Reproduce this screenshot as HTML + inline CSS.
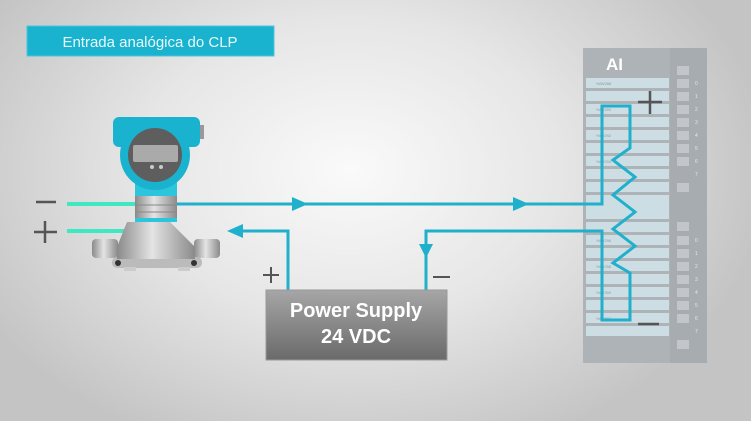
<!DOCTYPE html>
<html><head><meta charset="utf-8"><style>
html,body{margin:0;padding:0;width:751px;height:421px;overflow:hidden}
body{background:radial-gradient(ellipse 420px 300px at 350px 170px,#fafafa 0%,#e6e6e6 50%,#c4c4c4 100%);font-family:"Liberation Sans",sans-serif}
</style></head><body>
<svg width="751" height="421" viewBox="0 0 751 421" xmlns="http://www.w3.org/2000/svg" style="position:absolute;left:0;top:0">
<defs>
<linearGradient id="silver" x1="0" x2="1" y1="0" y2="0">
<stop offset="0" stop-color="#8a8a8a"/><stop offset=".45" stop-color="#e4e4e4"/><stop offset="1" stop-color="#8a8a8a"/></linearGradient>
<linearGradient id="ps" x1="0" x2="0" y1="0" y2="1">
<stop offset="0" stop-color="#a6a6a6"/><stop offset="1" stop-color="#6a6a6a"/></linearGradient>
</defs>
<rect x="27" y="26" width="247" height="30" fill="#1ab3cf" stroke="#4cc6dd"/>
<text x="150" y="47" font-size="15" fill="#e8f8fb" text-anchor="middle">Entrada analógica do CLP</text>

<rect x="583" y="48" width="124" height="315" fill="#aeb3b8"/>
<rect x="670" y="48" width="37" height="315" fill="#a7acb1"/>
<text x="606" y="70" font-size="17" font-weight="bold" fill="#fff">AI</text>
<g fill="#cddde4">
<rect x="586" y="78" width="83" height="10"/><rect x="586" y="91" width="83" height="10"/><rect x="586" y="104" width="83" height="10"/><rect x="586" y="117" width="83" height="10"/><rect x="586" y="130" width="83" height="10"/><rect x="586" y="143" width="83" height="10"/><rect x="586" y="156" width="83" height="10"/><rect x="586" y="169" width="83" height="10"/><rect x="586" y="182" width="83" height="10"/><rect x="586" y="195" width="83" height="24"/><rect x="586" y="222" width="83" height="10"/><rect x="586" y="235" width="83" height="10"/><rect x="586" y="248" width="83" height="10"/><rect x="586" y="261" width="83" height="10"/><rect x="586" y="274" width="83" height="10"/><rect x="586" y="287" width="83" height="10"/><rect x="586" y="300" width="83" height="10"/><rect x="586" y="313" width="83" height="10"/><rect x="586" y="326" width="83" height="10"/>
</g>
<g font-size="4" fill="#8a9aa4">
<text x="596" y="85">%IW288</text><text x="596" y="111">%IW290</text><text x="596" y="137">%IW292</text><text x="596" y="163">%IW294</text>
<text x="596" y="242">%IW296</text><text x="596" y="268">%IW298</text><text x="596" y="294">%IW300</text><text x="596" y="320">%IW302</text>
</g>
<g fill="#c3c6c9">
<rect x="677" y="66" width="12" height="9"/><rect x="677" y="79" width="12" height="9"/><rect x="677" y="92" width="12" height="9"/><rect x="677" y="105" width="12" height="9"/><rect x="677" y="118" width="12" height="9"/><rect x="677" y="131" width="12" height="9"/><rect x="677" y="144" width="12" height="9"/><rect x="677" y="157" width="12" height="9"/><rect x="677" y="183" width="12" height="9"/>
<rect x="677" y="222" width="12" height="9"/><rect x="677" y="236" width="12" height="9"/><rect x="677" y="249" width="12" height="9"/><rect x="677" y="262" width="12" height="9"/><rect x="677" y="275" width="12" height="9"/><rect x="677" y="288" width="12" height="9"/><rect x="677" y="301" width="12" height="9"/><rect x="677" y="314" width="12" height="9"/><rect x="677" y="340" width="12" height="9"/>
</g>
<g font-size="5" fill="#e6e6e6">
<text x="695" y="85">0</text><text x="695" y="98">1</text><text x="695" y="111">2</text><text x="695" y="124">3</text><text x="695" y="137">4</text><text x="695" y="150">5</text><text x="695" y="163">6</text><text x="695" y="176">7</text>
<text x="695" y="242">0</text><text x="695" y="255">1</text><text x="695" y="268">2</text><text x="695" y="281">3</text><text x="695" y="294">4</text><text x="695" y="307">5</text><text x="695" y="320">6</text><text x="695" y="333">7</text>
</g>
<g stroke="#555" stroke-width="2.5">
<line x1="638" y1="102" x2="662" y2="102"/><line x1="650" y1="91" x2="650" y2="114"/>
<line x1="638" y1="324" x2="659" y2="324"/>
</g>

<g fill="none" stroke="#1fb0cc" stroke-width="3" stroke-linejoin="miter">
<polyline points="176,204 602,204 602,106 630,106 630,148 613,160 635,177 613,195 635,212 613,229 635,246 613,263 630,273 630,320 602,320 602,231 426,231 426,290"/>
<polyline points="235,231 288,231 288,290"/>
</g>
<g fill="#1fb0cc">
<polygon points="308,204 292,197 292,211"/>
<polygon points="529,204 513,197 513,211"/>
<polygon points="227,231 243,224 243,238"/>
<polygon points="426,258 419,244 433,244"/>
</g>
<g stroke="#555" stroke-width="2">
<line x1="263" y1="275" x2="279" y2="275"/><line x1="271" y1="267" x2="271" y2="283"/>
<line x1="433" y1="277" x2="450" y2="277"/>
</g>

<rect x="266" y="290" width="181" height="70" fill="url(#ps)" stroke="#999"/>
<text x="356" y="317" font-size="20" font-weight="bold" fill="#fff" text-anchor="middle">Power Supply</text>
<text x="356" y="343" font-size="20" font-weight="bold" fill="#fff" text-anchor="middle">24 VDC</text>

<g stroke="#555" stroke-width="2.5">
<line x1="36" y1="202" x2="56" y2="202"/>
<line x1="34" y1="232" x2="57" y2="232"/><line x1="45" y1="221" x2="45" y2="243"/>
</g>
<g stroke="#3ee8c0" stroke-width="4">
<line x1="67" y1="204" x2="136" y2="204"/><line x1="67" y1="231" x2="130" y2="231"/>
</g>
<rect x="92" y="239" width="26" height="19" rx="4" fill="url(#silver)"/>
<rect x="194" y="239" width="26" height="19" rx="4" fill="url(#silver)"/>
<rect x="112" y="257" width="90" height="11" rx="5" fill="#bbb"/>
<circle cx="118" cy="263" r="3" fill="#333"/><circle cx="194" cy="263" r="3" fill="#333"/>
<rect x="124" y="267" width="12" height="4" fill="#ccc"/><rect x="178" y="267" width="12" height="4" fill="#ccc"/>
<polygon points="127,222 170,222 195,247 195,259 117,259 117,247" fill="url(#silver)"/>
<rect x="135" y="180" width="42" height="17" fill="#2cc5dc"/>
<rect x="135" y="196" width="42" height="26" fill="url(#silver)"/>
<line x1="135" y1="205" x2="177" y2="205" stroke="#888"/><line x1="135" y1="212" x2="177" y2="212" stroke="#888"/>
<rect x="135" y="218" width="42" height="4" fill="#2cc5dc"/>
<rect x="113" y="117" width="87" height="30" rx="6" fill="#1ab3cf"/>
<rect x="200" y="125" width="4" height="14" fill="#999"/>
<circle cx="155" cy="155" r="35" fill="#1ab3cf"/>
<circle cx="155" cy="155" r="27" fill="#5e5e5e"/>
<rect x="133" y="145" width="45" height="17" rx="2" fill="#aaa"/>
<circle cx="152" cy="167" r="2" fill="#ccc"/><circle cx="161" cy="167" r="2" fill="#ccc"/>
</svg>
</body></html>
